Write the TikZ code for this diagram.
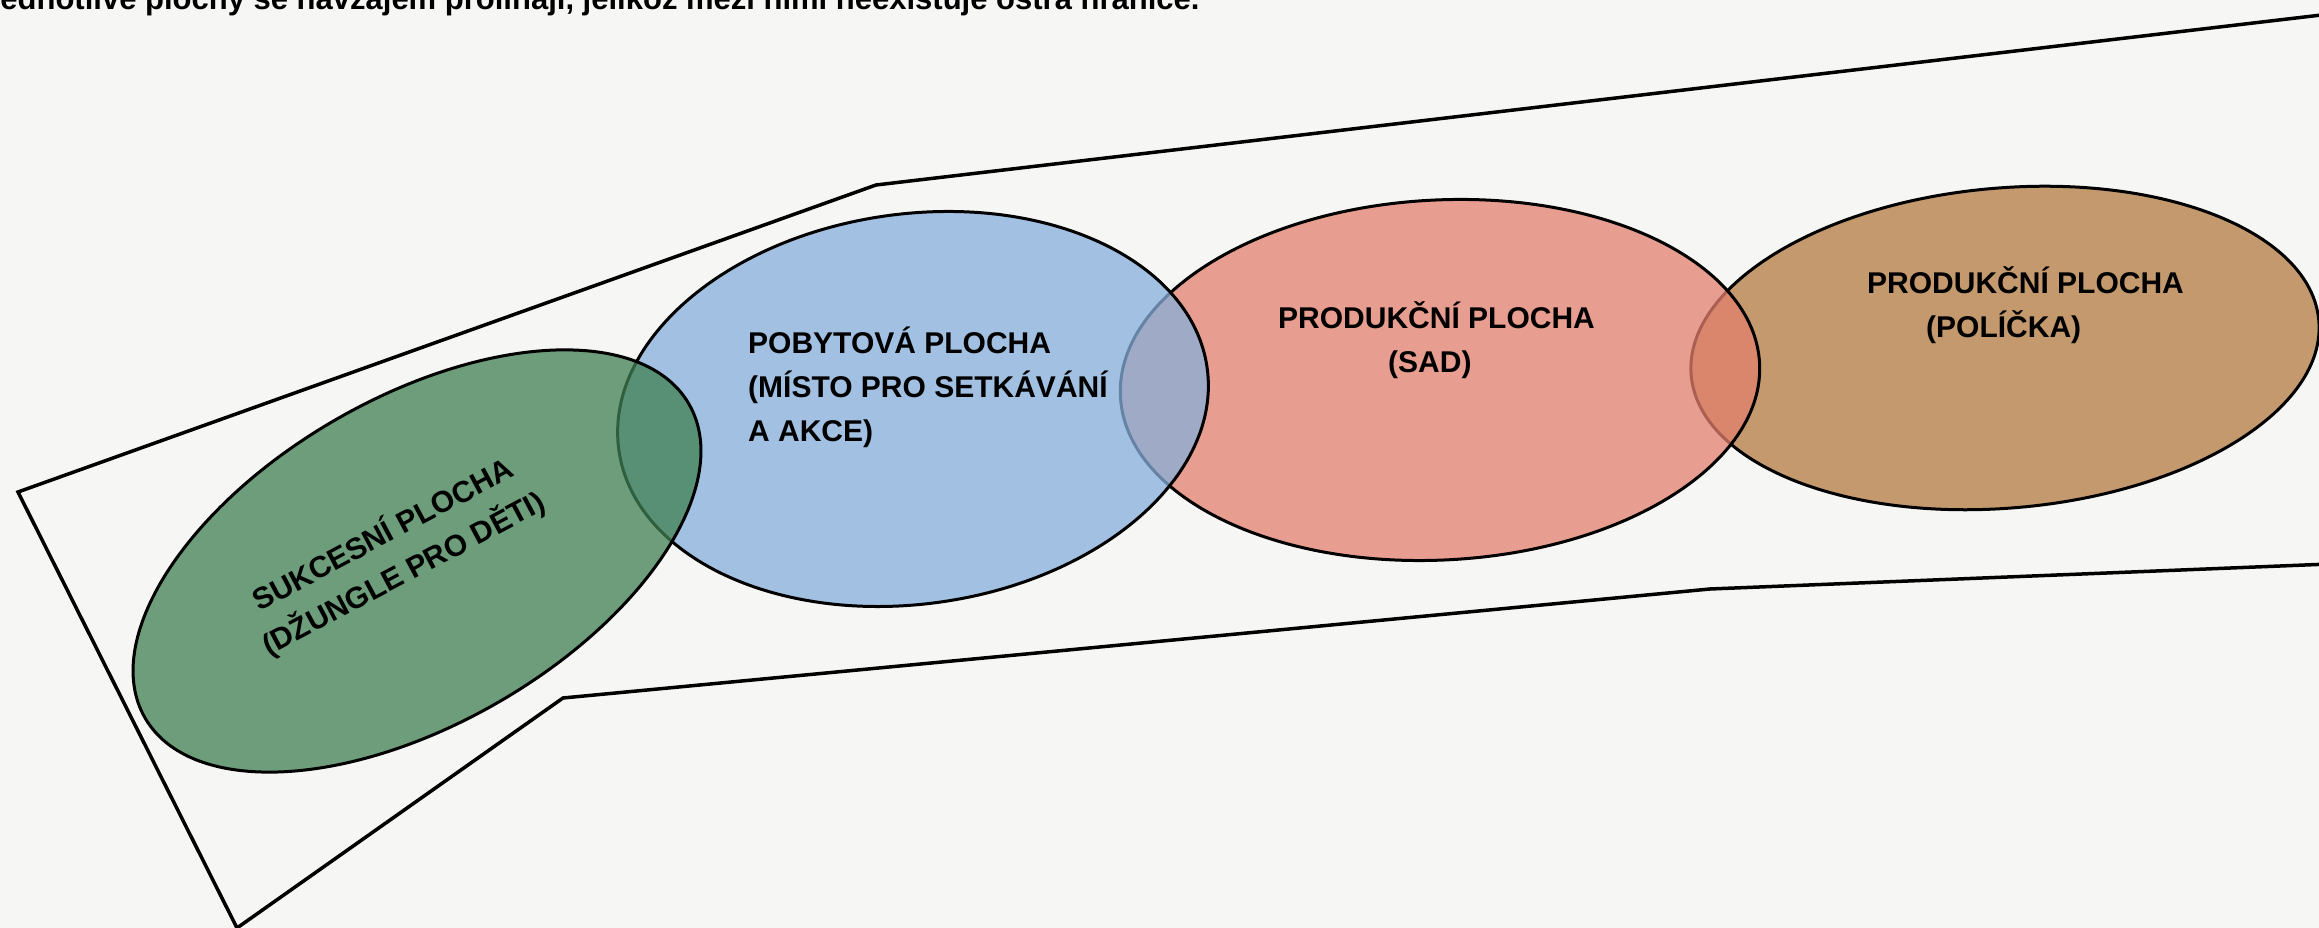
\documentclass[tikz,border=0pt]{standalone}
\usepackage{fontspec}
\setmainfont{Liberation Sans}
\usetikzlibrary{shapes.geometric}
\definecolor{paper}{RGB}{246,246,244}
\definecolor{zonegreen}{RGB}{64,128,82}
\definecolor{zoneblue}{RGB}{135,175,219}
\definecolor{zonered}{RGB}{227,128,110}
\definecolor{zonebrown}{RGB}{179,123,64}
\begin{document}
\begin{tikzpicture}[x=1pt,y=1pt,
    zone/.style={ellipse,draw=black,line width=3pt,fill opacity=0.75,draw opacity=1,inner sep=0pt},
    zonetext/.style={font=\bfseries\fontsize{30}{44}\selectfont,inner sep=0pt}]
                \fill[paper](0,0)rectangle(2319,928);
                \useasboundingbox(0,0)rectangle(2319,928);
                % outline of the plot
                \coordinate(p1)at(18,436);
                \coordinate(p2)at(876,743);
                \coordinate(p3)at(2330,914);
                \coordinate(p4)at(2330,364);
                \coordinate(p5)at(1710,339);
                \coordinate(p6)at(563,230);
                \coordinate(p7)at(237,0);
                \draw[line width=3.5pt,line join=miter](p1)--(p2)--(p3)--(p4)--(p5)--(p6)--(p7)--cycle;
                % areas
                \node[zone,fill=zonebrown,minimum width=630pt,minimum height=320pt,rotate=5](policka)at(2005,580){};
                \node[zone,fill=zonered,minimum width=640pt,minimum height=360pt,rotate=3](sad)at(1440,548){};
                \node[zone,fill=zoneblue,minimum width=594pt,minimum height=390pt,rotate=8](pobyt)at(913,519){};
                \node[zone,fill=zonegreen,minimum width=628pt,minimum height=326pt,rotate=30](sukcese)at(417,367){};
                % texts (base = baseline of the last line)
                \node[zonetext,anchor=base west,font=\bfseries\fontsize{31}{36}\selectfont](popis)at(-17,918){Jednotlivé plochy se navzájem prolínají, jelikož mezi nimi neexistuje ostrá hranice.};
                \node[zonetext,align=center,rotate=28](tsukcese)at(393,374){SUKCESNÍ PLOCHA\\(DŽUNGLE PRO DĚTI)};
                \node[zonetext,align=left,anchor=base west](tpobyt)at(748,486){POBYTOVÁ PLOCHA\\(MÍSTO PRO SETKÁVÁNÍ\\A AKCE)};
                \node[zonetext,align=left,anchor=base west](tsad)at(1278,555){PRODUKČNÍ PLOCHA\\\hspace*{110pt}(SAD)};
                \node[zonetext,align=left,anchor=base west](tpolicka)at(1867,590){PRODUKČNÍ PLOCHA\\\hspace*{59pt}(POLÍČKA)};
            \end{tikzpicture}
\end{document}
